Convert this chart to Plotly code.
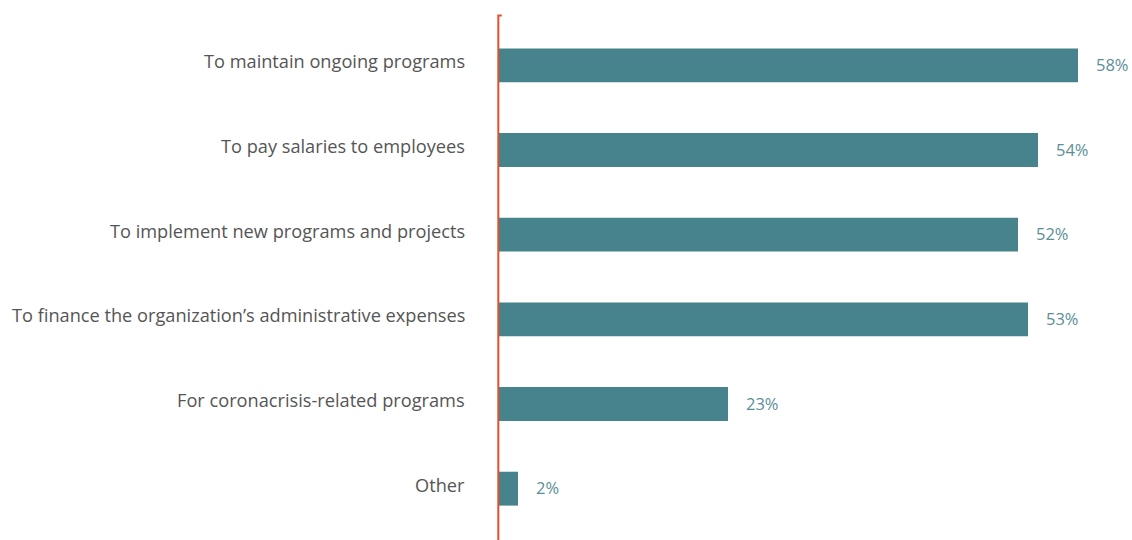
import plotly.graph_objects as go

categories = [
    "To maintain ongoing programs",
    "To pay salaries to employees",
    "To implement new programs and projects",
    "To finance the organization’s administrative expenses",
    "For coronacrisis-related programs",
    "Other",
]
values = [58, 54, 52, 53, 23, 2]
value_labels = [f"{v}%" for v in values]

BAR_COLOR = "#47838C"
VALUE_COLOR = "#5A8F98"
LABEL_COLOR = "#555555"
AXIS_COLOR = "#E0502A"
FONT = "Open Sans"

fig = go.Figure()
fig.add_trace(go.Bar(
    x=values,
    y=categories,
    orientation="h",
    marker=dict(color=BAR_COLOR, line=dict(width=0)),
    width=0.4,
    hoverinfo="skip",
))

annotations = []
for cat, v, lab in zip(categories, values, value_labels):
    # category name to the left of the axis line
    annotations.append(dict(
        x=0, xref="paper", y=cat, yref="y",
        text=cat, showarrow=False, xanchor="right", yanchor="middle",
        xshift=-31, yshift=4,
        font=dict(family=FONT, size=18.2, color=LABEL_COLOR),
    ))
    # value label to the right of the bar
    annotations.append(dict(
        x=v, xref="x", y=cat, yref="y",
        text=lab, showarrow=False, xanchor="left", yanchor="middle",
        xshift=16, yshift=1,
        font=dict(family=FONT, size=16.5, color=VALUE_COLOR),
    ))

fig.update_layout(
    width=1132, height=540,
    margin=dict(l=498, r=0, t=23, b=9),
    plot_bgcolor="white", paper_bgcolor="white",
    showlegend=False,
    bargap=0.6,
    xaxis=dict(range=[0, 63.4], visible=False, fixedrange=True),
    yaxis=dict(categoryorder="array", categoryarray=categories[::-1],
               showticklabels=False, showgrid=False, zeroline=False,
               showline=False, ticks="", fixedrange=True),
    annotations=annotations,
    shapes=[dict(
        type="path", xref="paper", yref="paper",
        path="M 0.006,1.0149 L 0.0005,1.0149 L 0.0005,-0.02",
        line=dict(color=AXIS_COLOR, width=2),
        layer="above",
    )],
)

fig.write_html("out.html")
